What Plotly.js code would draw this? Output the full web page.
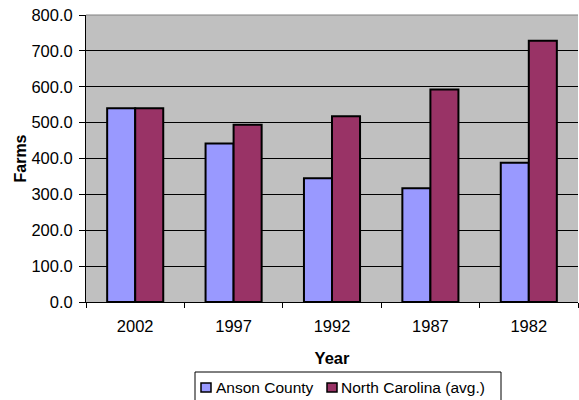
<!DOCTYPE html>
<html><head><meta charset="utf-8">
<script src="https://cdn.plot.ly/plotly-3.0.1.min.js"></script>
<style>html,body{margin:0;padding:0;background:#fff}</style>
</head><body>
<div id="chart" style="width:579px;height:400px"></div>
<script>
const years = ["2002", "1997", "1992", "1987", "1982"];
const ansonCounty = [540, 442, 345, 317, 388];
const northCarolina = [540, 494, 518, 592, 728];
const yTicks = [0, 100, 200, 300, 400, 500, 600, 700, 800];
const seriesNames = ["Anson County", "North Carolina (avg.)"];
const seriesColors = ["#9999FF", "#993366"];

const traces = [
  {type: "bar", name: seriesNames[0], x: years, y: ansonCounty,
   marker: {color: seriesColors[0], line: {color: "#000", width: 2}}},
  {type: "bar", name: seriesNames[1], x: years, y: northCarolina,
   marker: {color: seriesColors[1], line: {color: "#000", width: 2}}}
];
const fam = "Liberation Sans, Arial, sans-serif";
const f = (s) => ({family: fam, size: s, color: "#000"});

const L = 86, R = 1, T = 15, B = 98, W = 579, H = 400;
const pw = W - L - R, ph = H - T - B;
const px = (x) => (x - L) / pw;
const py = (y) => (H - B - y) / ph;

const shapes = [
  {type: "line", xref: "paper", yref: "paper", x0: 0, x1: 1, y0: 1, y1: 1,
   line: {color: "#808080", width: 1}},
  {type: "rect", xref: "paper", yref: "paper", x0: px(195), x1: px(501), y0: py(372), y1: py(401),
   line: {color: "#000", width: 1}, fillcolor: "rgba(0,0,0,0)"},
  {type: "rect", xref: "paper", yref: "paper", x0: px(201), x1: px(211), y0: py(383), y1: py(392),
   line: {color: "#000", width: 1.5}, fillcolor: seriesColors[0]},
  {type: "rect", xref: "paper", yref: "paper", x0: px(327), x1: px(337), y0: py(383), y1: py(392),
   line: {color: "#000", width: 1.5}, fillcolor: seriesColors[1]}
];
const annotations = [
  {xref: "paper", yref: "paper", x: px(214), y: py(387.5), xanchor: "left", yanchor: "middle",
   text: seriesNames[0], showarrow: false, font: f(15.5)},
  {xref: "paper", yref: "paper", x: px(339), y: py(387.5), xanchor: "left", yanchor: "middle",
   text: seriesNames[1], showarrow: false, font: f(15.5)}
];

const layout = {
  width: W, height: H,
  margin: {l: L, r: R, t: T, b: B},
  paper_bgcolor: "#fff", plot_bgcolor: "#C0C0C0",
  font: f(16.5),
  barmode: "group", bargap: 0.43, bargroupgap: 0,
  showlegend: false,
  xaxis: {type: "category", showline: true, linecolor: "#000", linewidth: 1,
    ticks: "outside", ticklen: 5, tickcolor: "#000", tickson: "boundaries",
    tickfont: f(16.5), ticklabelstandoff: 9,
    title: {text: "<b>Year</b>", font: f(16.5), standoff: 18},
    fixedrange: true},
  yaxis: {range: [0, 800], tickvals: yTicks, ticktext: yTicks.map(v => v.toFixed(1)),
    showgrid: true, gridcolor: "#000", gridwidth: 1, zeroline: false,
    showline: true, linecolor: "#000", linewidth: 1,
    ticks: "outside", ticklen: 6, tickcolor: "#000",
    tickfont: f(16.5), ticklabelstandoff: 3,
    title: {text: "<b>Farms</b>", font: f(16), standoff: 0}},
  shapes: shapes,
  annotations: annotations
};
Plotly.newPlot("chart", traces, layout, {displayModeBar: false, staticPlot: true});
</script>
</body></html>
